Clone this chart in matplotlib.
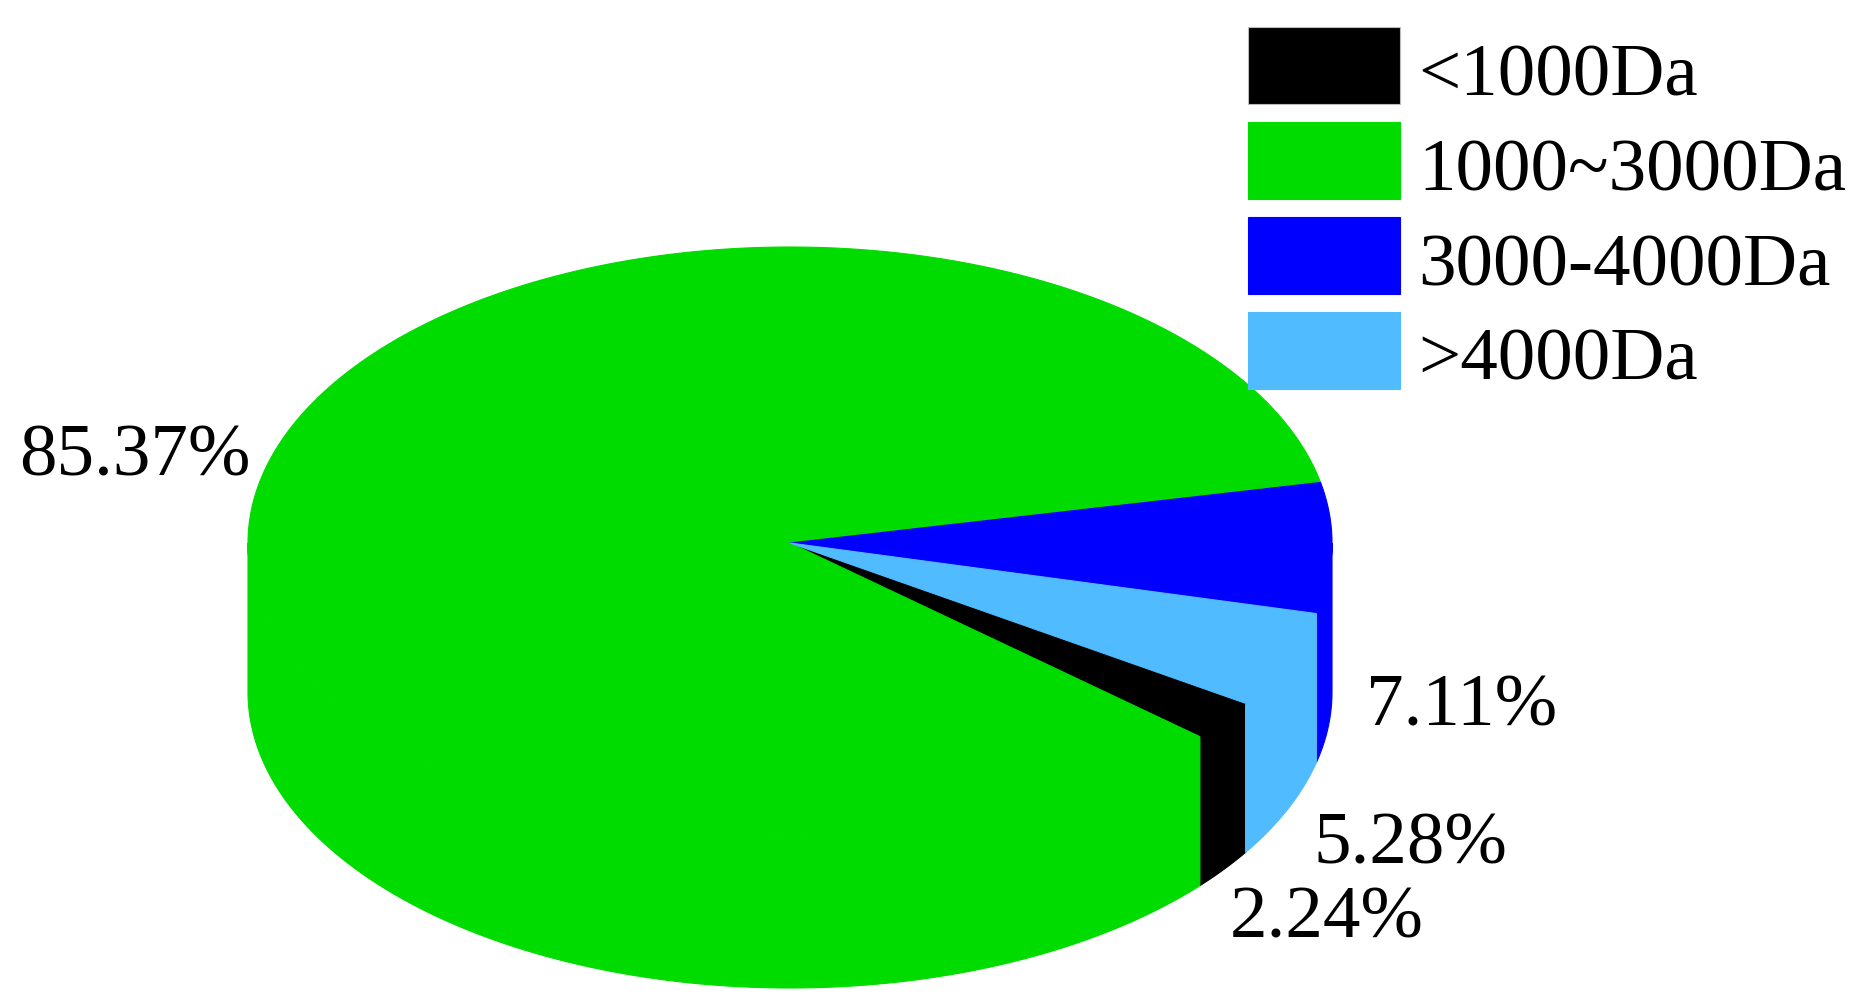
import numpy as np
import matplotlib
matplotlib.use("Agg")
import matplotlib.pyplot as plt
from matplotlib.patches import Polygon, Rectangle

# data
labels = ["<1000Da", "1000~3000Da", "3000-4000Da", ">4000Da"]
values = [2.24, 85.37, 7.11, 5.28]
colors = ["#000000", "#00dc00", "#0000ff", "#50bbff"]

# where the percent labels go (pixel positions, baseline)
label_pos = [(1230, 938), (19, 475), (1366, 725), (1313, 863)]

plt.rcParams["font.family"] = ["Liberation Serif", "DejaVu Serif"]

W, H = 1865, 1006
fig = plt.figure(figsize=(W / 100, H / 100), dpi=100)
ax = fig.add_axes([0, 0, 1, 1])
ax.set_xlim(0, W)
ax.set_ylim(H, 0)
ax.axis("off")

# pseudo 3d pie: ellipse top + extruded side
cx, cy = 790, 543
rx, ry = 542, 296
depth = 149
start = -32.8  # black slice starts here, slices go clockwise


def rim(t, dy=0):
    t = np.radians(t)
    return np.column_stack([cx + rx * np.cos(t), cy - ry * np.sin(t) + dy])


fr = np.array(values) / sum(values)
t0 = start
spans = []
for f in fr:
    t1 = t0 - 360 * f
    spans.append((t1, t0))
    t0 = t1

# side faces first (only the front half is visible)
for (a, b), c in zip(spans, colors):
    for k in range(-2, 3):
        lo = max(a + 360 * k, 180)
        hi = min(b + 360 * k, 360)
        if hi <= lo:
            continue
        tt = np.linspace(lo, hi, 200)
        top = rim(tt)
        bot = rim(tt[::-1], depth)
        ax.add_patch(Polygon(np.vstack([top, bot]), closed=True,
                             facecolor=c, edgecolor=c, lw=0.8))

# top face
for (a, b), c in zip(spans, colors):
    tt = np.linspace(a, b, 300)
    pts = np.vstack([[cx, cy], rim(tt)])
    ax.add_patch(Polygon(pts, closed=True, facecolor=c, edgecolor=c, lw=0.8))

# percent labels
for v, (x, y) in zip(values, label_pos):
    ax.text(x, y, f"{v:.2f}%", fontsize=54, ha="left", va="baseline")

# legend drawn by hand
for i, (lab, c) in enumerate(zip(labels, colors)):
    top = 27 + 95 * i
    ax.add_patch(Rectangle((1248, top), 152, 77, facecolor=c,
                           edgecolor="#bbbbbb" if i == 0 else c, lw=0.8))
    ax.text(1418, top + 68, lab, fontsize=54, ha="left", va="baseline")

fig.savefig("out.png", dpi=100)
